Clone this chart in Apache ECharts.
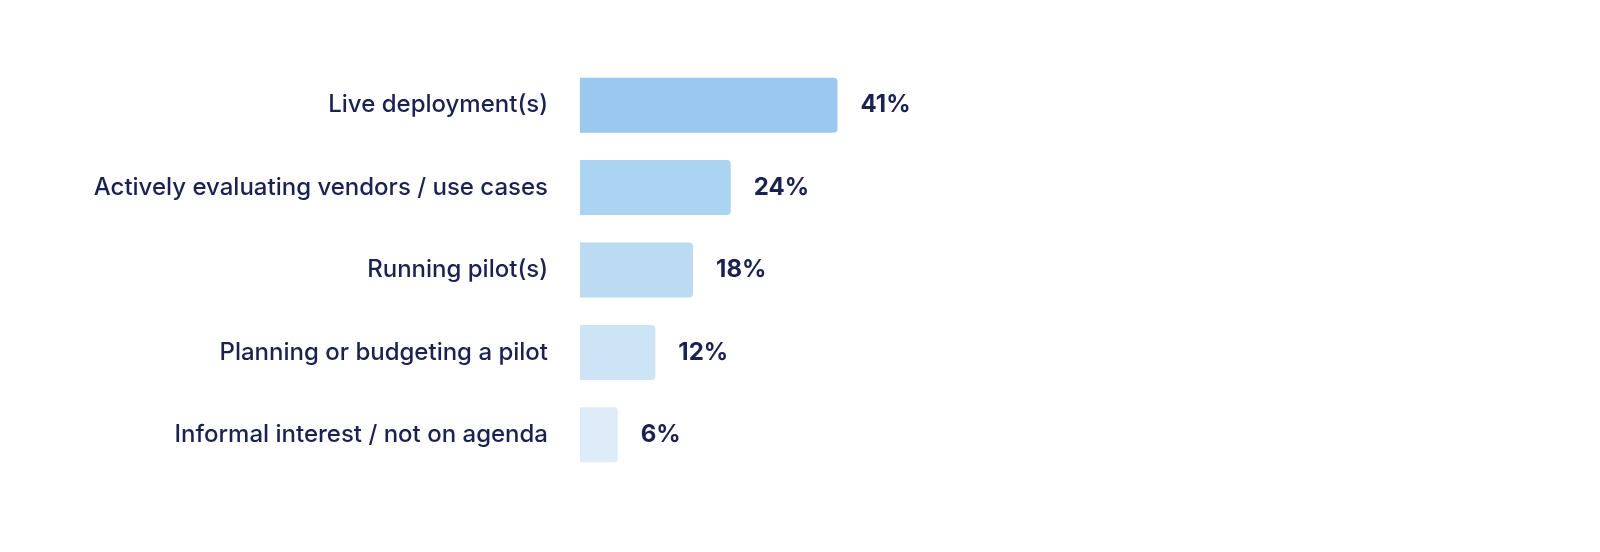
<!DOCTYPE html>
<html><head><meta charset="utf-8">
<style>html,body{margin:0;padding:0;background:#fff}#c{width:1600px;height:552px}</style>
<script src="https://cdn.jsdelivr.net/npm/echarts@6/dist/echarts.min.js"></script>
</head><body><div id="c"></div>
<script>
const categories = ["Live deployment(s)", "Actively evaluating vendors / use cases", "Running pilot(s)", "Planning or budgeting a pilot", "Informal interest / not on agenda"];
const values = [41, 24, 18, 12, 6];
const barColors = ["#9AC8EE", "#ABD3F2", "#BCDBF2", "#CDE3F6", "#DEEBF8"];

const chart = echarts.init(document.getElementById('c'), null, {renderer: 'canvas'});
chart.setOption({
  animation: false,
  grid: {left: 580, width: 628, top: 64, bottom: 76, containLabel: false},
  xAxis: {type: 'value', min: 0, max: 100, show: false},
  yAxis: {
    type: 'category', data: categories, inverse: true,
    axisLine: {show: false}, axisTick: {show: false},
    axisLabel: {margin: 32, color: '#1B2150', fontSize: 24, fontFamily: 'Inter', fontWeight: 500}
  },
  series: [{
    type: 'bar', barWidth: 55,
    data: values.map((v, i) => ({value: v, itemStyle: {color: barColors[i]}})),
    itemStyle: {borderRadius: [0, 4, 4, 0]},
    label: {show: true, position: 'right', distance: 23, formatter: '{c}%', color: '#1B2150', fontSize: 24, fontFamily: 'Inter', fontWeight: 700}
  }]
});
</script></body></html>
